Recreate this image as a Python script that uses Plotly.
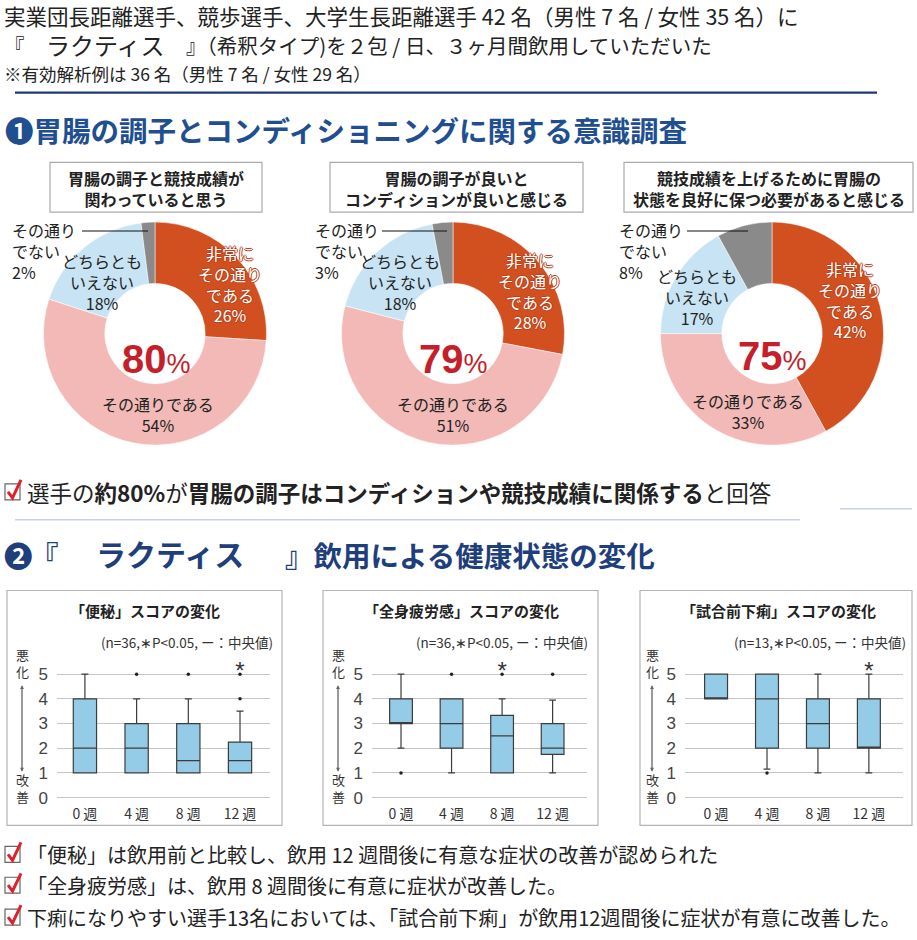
import plotly.graph_objects as go

W, H = 917, 940
FONT = "Noto Sans CJK JP"


def px(x):
    return x / W


def py(y):
    return 1 - y / H


# ---------------- data ----------------
pie_titles = [
    "胃腸の調子と競技成績が<br>関わっていると思う",
    "胃腸の調子が良いと<br>コンディションが良いと感じる",
    "競技成績を上げるために胃腸の<br>状態を良好に保つ必要があると感じる",
]
pie_labels = ["非常にその通りである", "その通りである", "どちらともいえない", "その通りでない"]
pie1_values = [26, 54, 18, 2]
pie2_values = [28, 51, 18, 3]
pie3_values = [42, 33, 17, 8]
pie_totals = ["80", "79", "75"]
pie_colors = ["#d24f20", "#f2b9b7", "#c8e4f4", "#8a8a8a"]

weeks = ["0 週", "4 週", "8 週", "12 週"]
# 便秘
c_low = [1, 1, 1, 1]
c_q1 = [1, 1, 1, 1]
c_med = [2, 2, 1.5, 1.5]
c_q3 = [4, 3, 3, 2.25]
c_up = [5, 4, 4, 3.5]
c_out_x = ["4 週", "8 週", "12 週", "12 週"]
c_out_y = [5, 5, 5, 4]
# 全身疲労感
f_low = [2, 1, 1, 1]
f_q1 = [3, 2, 1, 1.75]
f_med = [3, 3, 2.5, 2]
f_q3 = [4, 4, 3.33, 3]
f_up = [5, 4, 4, 3.95]
f_out_x = ["0 週", "4 週", "8 週", "12 週"]
f_out_y = [1, 5, 5, 5]
# 試合前下痢
d_low = [4, 1.15, 1, 1]
d_q1 = [4, 2, 2, 2]
d_med = [4, 4, 3, 2]
d_q3 = [5, 5, 4, 4]
d_up = [5, 5, 5, 5]
d_out_x = ["4 週"]
d_out_y = [1]

box_titles = ["「便秘」スコアの変化", "「全身疲労感」スコアの変化", "「試合前下痢」スコアの変化"]
box_notes = ["(n=36,∗P<0.05, ー：中央値)", "(n=36,∗P<0.05, ー：中央値)", "(n=13,∗P<0.05, ー：中央値)"]
sig_week = ["12 週", "8 週", "12 週"]
y_ticks = [0, 1, 2, 3, 4, 5]

fig = go.Figure()

# ---------------- pies ----------------
pie_dom = [(43, 267), (341, 565), (660, 884)]
for vals, (x0, x1) in zip([pie1_values, pie2_values, pie3_values], pie_dom):
    fig.add_trace(go.Pie(
        labels=pie_labels, values=vals, hole=0.45, sort=False,
        direction="clockwise", rotation=0, textinfo="none",
        marker=dict(colors=pie_colors, line=dict(color="white", width=0.5)),
        domain=dict(x=[px(x0), px(x1)], y=[py(447), py(223)]),
        showlegend=False, hoverinfo="label+percent",
    ))

# ---------------- boxes ----------------
box_sets = [
    (c_low, c_q1, c_med, c_q3, c_up, c_out_x, c_out_y),
    (f_low, f_q1, f_med, f_q3, f_up, f_out_x, f_out_y),
    (d_low, d_q1, d_med, d_q3, d_up, d_out_x, d_out_y),
]
for i, (lo, q1, md, q3, up, ox, oy) in enumerate(box_sets):
    xa = "x" if i == 0 else f"x{i+1}"
    ya = "y" if i == 0 else f"y{i+1}"
    fig.add_trace(go.Box(
        x=weeks, lowerfence=lo, q1=q1, median=md, q3=q3, upperfence=up,
        fillcolor="#94cbe6", line=dict(color="#3c3c3c", width=1.2),
        width=0.45, whiskerwidth=0.3, boxpoints=False,
        xaxis=xa, yaxis=ya, showlegend=False,
    ))
    fig.add_trace(go.Scatter(
        x=ox, y=oy, mode="markers", marker=dict(color="#222", size=3.5),
        xaxis=xa, yaxis=ya, showlegend=False, cliponaxis=False,
    ))
    fig.add_trace(go.Scatter(
        x=[sig_week[i]], y=[5.05], mode="text", text=["*"],
        textfont=dict(size=24, color="#333", family="Liberation Sans"),
        xaxis=xa, yaxis=ya, showlegend=False, cliponaxis=False,
    ))

# axes (y unit = 24.8 px, y=0 at 801 px)
ax_dom = [(57, 270, -0.54, 3.58), (372, 587, -0.574, 3.68), (685, 903, -0.61, 3.67)]
for i, (x0, x1, r0, r1) in enumerate(ax_dom):
    sx = "" if i == 0 else str(i + 1)
    fig.update_layout(**{
        f"xaxis{sx}": dict(
            domain=[px(x0), px(x1)], anchor=f"y{sx}", type="category",
            range=[r0, r1], showgrid=False, zeroline=False, showline=False,
            ticks="", tickfont=dict(size=14, color="#333", family=FONT),
            fixedrange=True,
        ),
        f"yaxis{sx}": dict(
            domain=[py(807.2), py(657.2)], anchor=f"x{sx}", range=[-0.25, 5.8],
            tickvals=y_ticks, showgrid=True, gridcolor="#c4c4c4", gridwidth=1,
            zeroline=False, showline=False, ticks="", ticklabelstandoff=8,
            tickfont=dict(size=17, color="#444", family="Liberation Sans"),
            fixedrange=True,
        ),
    })

shapes = []
ann = []


def text(x, y, t, size=16, color="#222", xanchor="left", bold=False, family=FONT, align="left", shadow=None):
    f = dict(size=size, color=color, family=family)
    if shadow:
        f["shadow"] = shadow
    ann.append(dict(
        x=px(x), y=py(y), xref="paper", yref="paper", text=(f"<b>{t}</b>" if bold else t),
        showarrow=False, xanchor=xanchor, yanchor="middle", align=align, font=f,
    ))


def line(x0, y0, x1, y1, color="#000", width=1):
    shapes.append(dict(type="line", xref="paper", yref="paper", x0=px(x0), y0=py(y0),
                       x1=px(x1), y1=py(y1), line=dict(color=color, width=width)))


def rect(x0, y0, x1, y1, color="#aaa", width=1.2, fill="rgba(0,0,0,0)"):
    shapes.append(dict(type="rect", xref="paper", yref="paper", x0=px(x0), y0=py(y0),
                       x1=px(x1), y1=py(y1), line=dict(color=color, width=width), fillcolor=fill))


def checkbox(y):
    rect(5, y - 8, 20, y + 8, color="#666", width=1.2)
    shapes.append(dict(
        type="path", xref="paper", yref="paper",
        path=f"M {px(8)} {py(y)} L {px(12.5)} {py(y+6)} L {px(21)} {py(y-12)}",
        line=dict(color="#e0202a", width=3),
    ))


# ---------------- header ----------------
text(2, 16, "実業団長距離選手、競歩選手、大学生長距離選手 42 名（男性 7 名 / 女性 35 名）に", size=21.5)
text(2, 45, "『", size=20.5)
text(44, 45, "ラクティス", size=24, color="#222")
text(184, 45, "』（希釈タイプ)を２包 / 日、３ヶ月間飲用していただいた", size=20.5)
text(2, 74, "※有効解析例は 36 名（男性 7 名 / 女性 29 名）", size=17.5)
line(15, 93, 877, 93, color="#1f3a70", width=2.2)

# ---------------- section 1 ----------------
text(3, 130, "<b>❶胃腸の調子とコンディショニングに関する意識調査</b>", size=28.5, color="#1f4f91")

title_boxes = [(50, 262), (330, 583), (624, 913)]
for (x0, x1), t in zip(title_boxes, pie_titles):
    rect(x0, 163, x1, 213, color="#aaa", width=1.2)
    text((x0 + x1) / 2, 189, t, size=16, bold=True, xanchor="center", align="center", color="#222")

OUT = "#b8421a"
outline = f"1px 0 0 {OUT}, -1px 0 0 {OUT}, 0 1px 0 {OUT}, 0 -1px 0 {OUT}"
non_pos = [(10, 82, 148), (313, 382, 447), (617, 687, 748)]
neither_pos = [(102, 283), (400, 283), (697, 298)]
very_pos = [(230, 285), (530, 292), (850, 301)]
yes_pos = [(158, 416), (453, 416), (748, 413)]
total_pos = [(156, 361), (453, 361), (772, 358)]
for k, vals in enumerate([pie1_values, pie2_values, pie3_values]):
    lx, l0, l1 = non_pos[k]
    text(lx, 252, f"その通り<br>でない<br>{vals[3]}%", size=16, align="left")
    line(l0, 232, l1, 232, color="#111", width=1)
    nx, ny = neither_pos[k]
    text(nx, ny, f"どちらとも<br>いえない<br>{vals[2]}%", size=16, xanchor="center", align="center")
    vx, vy = very_pos[k]
    text(vx, vy, f"非常に<br>その通り<br>である<br>{vals[0]}%", size=16, xanchor="center",
         align="center", color="white", shadow=outline)
    yx, yy = yes_pos[k]
    text(yx, yy, f"その通りである<br>{vals[1]}%", size=16, xanchor="center", align="center")
    tx, ty = total_pos[k]
    text(tx, ty, f"<b>{pie_totals[k]}</b><span style='font-size:27px'>%</span>", size=40,
         xanchor="center", color="#c41f2a", family="Liberation Sans")

checkbox(494)
text(25, 494, "選手の<b>約80%</b>が<b>胃腸の調子はコンディションや競技成績に関係する</b>と回答", size=22.5)
line(15, 522, 800, 522, color="#c9d0e2", width=1.5)
line(840, 511, 912, 511, color="#c9d0e2", width=1.5)

# ---------------- section 2 ----------------
S2 = "#1f3f7c"
text(2, 557, "<b>❷</b>", size=28.5, color=S2)
text(28, 557, "<b>『</b>", size=28.5, color=S2)
text(94, 555, "<b>ラクティス</b>", size=30, color=S2)
text(283, 557, "<b>』飲用による健康状態の変化</b>", size=28.5, color=S2)

panels = [(7, 282), (323, 598), (640, 912)]
title_cx = [145, 462, 778]
note_rx = [275, 590, 908]
axis_lx = [22, 338, 652]
for k, (x0, x1) in enumerate(panels):
    rect(x0, 593, x1, 829, color="#b5b5b5", width=1.2)
    text(title_cx[k], 613, box_titles[k], size=15, bold=True, xanchor="center")
    text(note_rx[k], 645, box_notes[k], size=13.5, xanchor="right", color="#333")
    text(axis_lx[k], 666, "悪<br>化", size=13, xanchor="center", align="center", color="#333")
    text(axis_lx[k], 791, "改<br>善", size=13, xanchor="center", align="center", color="#333")
    ann.append(dict(
        x=px(axis_lx[k]), y=py(775), xref="paper", yref="paper", text="",
        showarrow=True, ax=0, ay=-88, arrowside="end+start", arrowhead=2,
        arrowsize=0.6, arrowwidth=1.3, arrowcolor="#666",
    ))

bottom_lines = [
    "「便秘」は飲用前と比較し、飲用 12 週間後に有意な症状の改善が認められた",
    "「全身疲労感」は、飲用 8 週間後に有意に症状が改善した。",
    "下痢になりやすい選手13名においては、「試合前下痢」が飲用12週間後に症状が有意に改善した。",
]
for yy, t in zip([858, 889, 921], bottom_lines):
    checkbox(yy)
    text(25, yy, t, size=20)

fig.update_layout(
    width=W, height=H, margin=dict(l=0, r=0, t=0, b=0),
    paper_bgcolor="white", plot_bgcolor="white",
    shapes=shapes, annotations=ann, showlegend=False,
    font=dict(family=FONT),
)

fig.write_html(
    "out.html",
    config={"displayModeBar": False},
    post_script="document.body.style.margin='0';document.body.style.overflow='hidden';",
)
